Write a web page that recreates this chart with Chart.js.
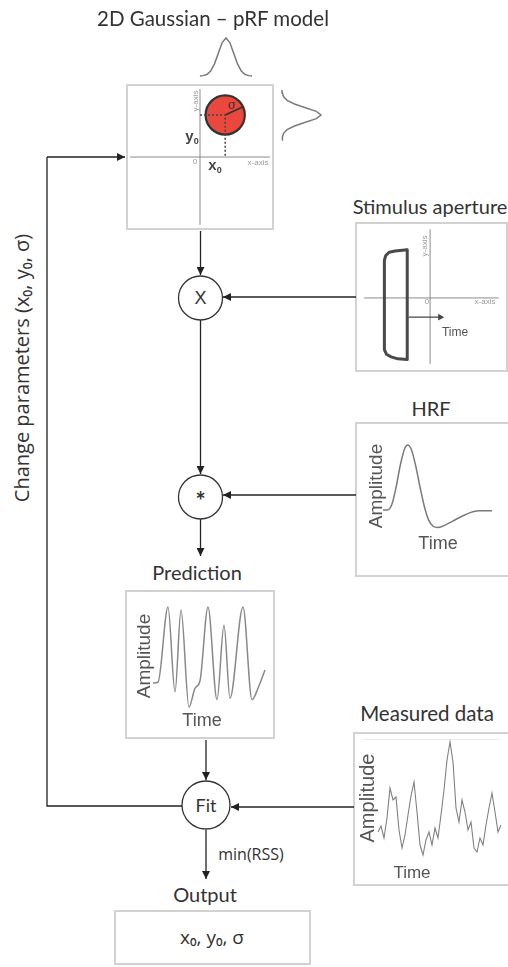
<!DOCTYPE html>
<html>
<head>
<meta charset="utf-8">
<script src="https://cdn.jsdelivr.net/npm/chart.js@4.4.0/dist/chart.umd.min.js"></script>
<style>
    body { margin: 0; background: #fff; }
    #page { position: relative; width: 508px; height: 967px; overflow: hidden; font-family: Lato, sans-serif; color: #333; }
    .box { position: absolute; box-sizing: border-box; border: 2px solid #d2d2d2; }
    .lbl { position: absolute; white-space: nowrap; line-height: 1; transform: translate(-50%, -50%); }
    .rot { transform: translate(-50%, -50%) rotate(-90deg); }
    .head { font-size: 20px; color: #333; }
    .axisname { font-family: "Liberation Sans", sans-serif; font-size: 8px; color: #9a9a9a; }
    .plotname { font-family: "Liberation Sans", sans-serif; color: #555; }
    .sans { font-family: "Open Sans", sans-serif; }
    .plot { position: absolute; }
    svg { position: absolute; left: 0; top: 0; }
    sub { font-size: 9px; vertical-align: -3px; }
</style>
</head>
<body>
<div id="page">
    <div class="box" style="left:126px; top:84px; width:148px; height:146px;"></div>
    <div class="box" style="left:355px; top:222px; width:153px; height:150px;"></div>
    <div class="box" style="left:355px; top:422px; width:155px; height:155px;"></div>
    <div class="box" style="left:125px; top:590px; width:150px; height:149px;"></div>
    <div class="box" style="left:353px; top:732px; width:157px; height:154px;"></div>
    <div class="box" style="left:114px; top:910px; width:197px; height:55px;"></div>
    <div style="position:absolute; left:362px; top:739px; width:138px; height:1px; background:#ececec;"></div>

    <svg width="508" height="967">
        <defs>
            <marker id="tip" viewBox="0 0 8 8" refX="8" refY="4" markerWidth="8" markerHeight="8" orient="auto" markerUnits="userSpaceOnUse">
                <path d="M0,0 L8,4 L0,8 z" fill="#222"></path>
            </marker>
        </defs>
        <g stroke="#222" stroke-width="1.3" fill="none">
            <polyline points="182,806 47,806 47,157"></polyline>
            <line x1="47" y1="157" x2="125" y2="157" marker-end="url(#tip)"></line>
            <line x1="200.5" y1="231" x2="200.5" y2="275" marker-end="url(#tip)"></line>
            <line x1="356" y1="297" x2="223" y2="297" marker-end="url(#tip)"></line>
            <line x1="200.5" y1="320" x2="200.5" y2="474" marker-end="url(#tip)"></line>
            <line x1="356" y1="495" x2="223" y2="495" marker-end="url(#tip)"></line>
            <line x1="200.5" y1="519" x2="200.5" y2="556" marker-end="url(#tip)"></line>
            <line x1="206" y1="740" x2="206" y2="780" marker-end="url(#tip)"></line>
            <line x1="354" y1="807" x2="231" y2="807" marker-end="url(#tip)"></line>
            <line x1="206" y1="830" x2="206" y2="879" marker-end="url(#tip)"></line>
        </g>
        <g stroke="#333" stroke-width="1.3" fill="#fff">
            <circle cx="200.5" cy="298" r="22"></circle>
            <circle cx="200.5" cy="497" r="22"></circle>
            <circle cx="206" cy="805" r="24"></circle>
        </g>
    </svg>

    <div class="lbl" style="left:213px; top:18px; font-size:20.5px;">2D Gaussian – pRF model</div>
    <div class="lbl head" style="left:430px; top:206px;">Stimulus aperture</div>
    <div class="lbl head" style="left:431px; top:408px;">HRF</div>
    <div class="lbl head" style="left:197px; top:572px;">Prediction</div>
    <div class="lbl head" style="left:427px; top:713px; font-size:20.5px;">Measured data</div>
    <div class="lbl head" style="left:205px; top:894px;">Output</div>

    <div class="lbl plotname" style="left:200.5px; top:298px; font-size:18px; color:#333;">X</div>
    <div class="lbl" style="left:200.5px; top:501px; font-size:24px; font-weight:bold;">*</div>
    <div class="lbl" style="left:206px; top:805px; font-size:18px;">Fit</div>
    <div class="lbl sans" style="left:251px; top:854px; font-size:16px;">min(RSS)</div>
    <div class="lbl sans" style="left:212px; top:937px; font-size:19px;">x₀, y₀, σ</div>
    <div class="lbl sans rot" style="left:22px; top:368px; font-size:20px;">Change parameters (x₀, y₀, σ)</div>

    <!-- pRF panel labels -->
    <div class="lbl axisname rot" style="left:196px; top:101px;">y-axis</div>
    <div class="lbl axisname" style="left:195px; top:162px;">0</div>
    <div class="lbl axisname" style="left:258px; top:163px;">x-axis</div>
    <div class="lbl plotname" style="left:192px; top:137px; font-size:15px; font-weight:bold; color:#444;">y<sub>0</sub></div>
    <div class="lbl plotname" style="left:215px; top:166px; font-size:15px; font-weight:bold; color:#444;">x<sub>0</sub></div>
    <div class="lbl" style="left:232px; top:105px; font-size:12px; font-family:'DejaVu Serif', serif; color:#333;">σ</div>

    <!-- stimulus panel labels -->
    <div class="lbl axisname rot" style="left:425px; top:246px;">y-axis</div>
    <div class="lbl axisname" style="left:427px; top:302px;">0</div>
    <div class="lbl axisname" style="left:485px; top:302px;">x-axis</div>
    <div class="lbl plotname" style="left:455px; top:332px; font-size:12px;">Time</div>

    <div class="lbl plotname rot" style="left:375px; top:486px; font-size:19px;">Amplitude</div>
    <div class="lbl plotname" style="left:438px; top:543px; font-size:18px;">Time</div>
    <div class="lbl plotname rot" style="left:143px; top:656px; font-size:19px;">Amplitude</div>
    <div class="lbl plotname" style="left:202px; top:720px; font-size:18px;">Time</div>
    <div class="lbl plotname rot" style="left:367px; top:798px; font-size:20px;">Amplitude</div>
    <div class="lbl plotname" style="left:412px; top:872px; font-size:17px;">Time</div>
</div>

<script>
// pRF centre and size, in visual-field units
const prfX0 = 0.36;
const prfY0 = 0.6;
const prfSigma = 0.28;
const sigmaAngle = 25; // degrees, direction of the sigma marker

// 1D gaussian profile shown along each axis of the pRF panel
const profilePos = [-3.4, -3, -2.5, -2, -1.5, -1, -0.5, 0, 0.5, 1, 1.5, 2, 2.5, 3, 3.4];
const profileVal = [0, 0.01, 0.04, 0.13, 0.32, 0.6, 0.88, 1, 0.88, 0.6, 0.32, 0.13, 0.04, 0.01, 0];

// stimulus aperture outline and the time arrow
const apertureX = [-0.34, -0.34, -0.48, -0.58, -0.65, -0.68, -0.68, -0.66, -0.61, -0.52, -0.34];
const apertureY = [0.73, -0.93, -0.92, -0.89, -0.85, -0.78, 0.57, 0.64, 0.69, 0.71, 0.73];
const timeArrowX = [-0.32, 0.15];
const timeArrowY = [-0.29, -0.29];

// haemodynamic response function (s, a.u.)
const hrfTime = [0, 1, 2, 3, 4, 5, 5.7, 6.5, 7.5, 8.5, 9.5, 10.5, 11.5, 12.5, 14, 16, 18, 20, 22, 25];
const hrfAmp = [0, 0, 0.08, 0.35, 0.7, 0.95, 1, 0.93, 0.68, 0.35, 0.05, -0.16, -0.25, -0.27, -0.24, -0.17, -0.1, -0.04, -0.01, -0.01];

// predicted time course (s, a.u.)
const predTime = [0, 2.5, 7.5, 11, 14, 18, 21, 23.5, 27.5, 32, 35.5, 38.5, 45, 49.5, 52.5, 56];
const predAmp = [0, 0.01, 1, -0.12, 0.96, -0.32, -0.07, 0.03, 1, -0.22, 0.76, -0.2, 1, -0.22, -0.07, 0.17];

// measured time course, one value per volume
const measAmp = [0.08, 0.14, 0.02, 0.22, 0.52, 0.40, 0.43, 0.10, -0.08, 0.05, 0.25, 0.44, 0.58, 0.28,
    -0.05, -0.15, 0.0, 0.08, -0.05, 0.12, 0.02, 0.25, 0.50, 0.80, 0.98, 0.78, 0.32, 0.18, 0.40, 0.28,
    0.10, 0.18, -0.08, -0.12, 0.02, -0.05, 0.15, 0.32, 0.47, 0.28, 0.08, 0.15];

const grey = '#7a7a7a';

// value v0 sits at page pixel p0 and v1 at p1; the canvas spans c0..c1
function fit(v0, p0, v1, p1, c0, c1) {
    const k = (v1 - v0) / (p1 - p0);
    const a = v0 + (c0 - p0) * k;
    const b = v0 + (c1 - p0) * k;
    return { min: Math.min(a, b), max: Math.max(a, b) };
}

function curve(xs, ys, extra) {
    return Object.assign({
        data: xs.map((x, i) => ({ x: x, y: ys[i] })),
        showLine: true,
        pointRadius: 0,
        borderColor: grey,
        borderWidth: 1.5,
        clip: false,
    }, extra);
}

function plot(rect, xr, yr, datasets) {
    const cv = document.createElement('canvas');
    cv.className = 'plot';
    cv.width = rect[2];
    cv.height = rect[3];
    cv.style.left = rect[0] + 'px';
    cv.style.top = rect[1] + 'px';
    document.getElementById('page').insertBefore(cv, document.querySelector('#page .lbl'));
    return new Chart(cv, {
        type: 'scatter',
        data: { datasets: datasets },
        options: {
            responsive: false,
            animation: false,
            events: [],
            layout: { padding: 0 },
            plugins: { legend: { display: false }, tooltip: { enabled: false } },
            scales: {
                x: { type: 'linear', display: false, min: xr.min, max: xr.max },
                y: { type: 'linear', display: false, min: yr.min, max: yr.max },
            },
        },
    });
}

// pRF panel
const rad = sigmaAngle * Math.PI / 180;
plot([128, 86, 144, 142],
    fit(0, 200, 1, 270, 128, 272),
    fit(0, 157, 1, 87, 86, 228), [
    curve([0, prfX0, prfX0], [prfY0, prfY0, 0], { borderColor: '#444', borderDash: [2, 2], borderWidth: 1.5 }),
    curve([prfX0, prfX0 + prfSigma * Math.cos(rad)], [prfY0, prfY0 + prfSigma * Math.sin(rad)], { borderColor: '#333', borderWidth: 1.8 }),
    {
        data: [{ x: prfX0, y: prfY0 }],
        pointRadius: c => c.chart.scales.x.getPixelForValue(prfSigma) - c.chart.scales.x.getPixelForValue(0),
        backgroundColor: 'rgb(234, 72, 60)',
        borderColor: '#333',
        borderWidth: 2.2,
        clip: false,
    },
    curve([-1, 1], [0, 0], { borderColor: '#8c8c8c', borderWidth: 1 }),
    curve([0, 0], [-0.97, 0.97], { borderColor: '#8c8c8c', borderWidth: 1 }),
]);

// profile along x (above the panel) and along y (to its right)
plot([194, 28, 66, 56],
    fit(0, 226, 3, 249, 194, 260),
    fit(0, 76, 1, 38, 28, 84), [
    curve(profilePos, profileVal),
]);
plot([276, 82, 56, 66],
    fit(0, 282, 1, 321, 276, 332),
    fit(0, 115, 3, 93, 82, 148), [
    curve(profileVal, profilePos),
]);

// stimulus aperture panel
plot([357, 224, 149, 146],
    fit(0, 430, 1, 501, 357, 506),
    fit(0, 298, 1, 228, 224, 370), [
    curve(timeArrowX, timeArrowY, {
        borderColor: '#444', borderWidth: 1.2,
        pointRadius: [0, 4], pointStyle: 'triangle', rotation: 90,
        pointBackgroundColor: '#444', pointBorderWidth: 0,
    }),
    curve(apertureX, apertureY, { borderColor: '#4a4a4a', borderWidth: 3, borderJoinStyle: 'round' }),
    curve([-0.98, 1.02], [0, 0], { borderColor: '#8c8c8c', borderWidth: 1 }),
    curve([0, 0], [-1, 1.04], { borderColor: '#8c8c8c', borderWidth: 1 }),
]);

// HRF panel
plot([357, 424, 151, 151],
    fit(0, 383, 25, 492, 357, 508),
    fit(0, 510, 1, 445, 424, 575), [
    curve(hrfTime, hrfAmp, { cubicInterpolationMode: 'monotone' }),
]);

// prediction panel
plot([127, 592, 146, 145],
    fit(0, 153, 56, 265, 127, 273),
    fit(0, 683, 1, 607, 592, 737), [
    curve(predTime, predAmp, { cubicInterpolationMode: 'monotone', borderColor: '#888' }),
]);

// measured data panel
plot([355, 734, 153, 150],
    fit(0, 378, measAmp.length - 1, 501, 355, 508),
    fit(0, 840, 1, 740, 734, 884), [
    curve(measAmp.map((a, i) => i), measAmp, { borderWidth: 1.1, borderColor: '#808080' }),
]);
</script>
</body>
</html>
